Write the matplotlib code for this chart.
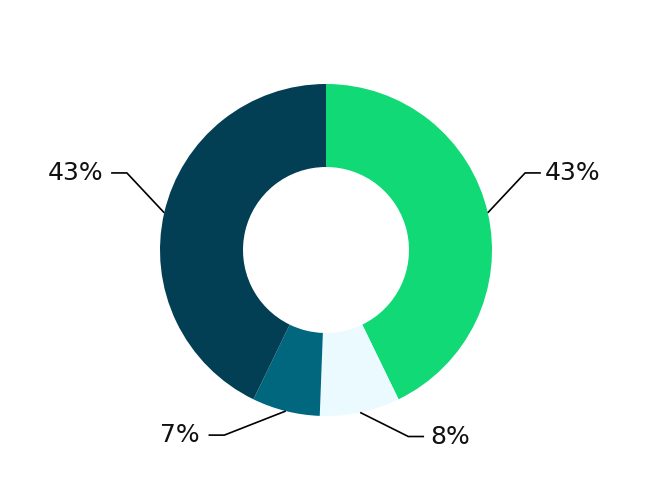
import matplotlib.pyplot as plt
import numpy as np

# Slice values (percent), clockwise from 12 o'clock
values = [42.8, 7.8, 6.6, 42.8]
labels = ["43%", "8%", "7%", "43%"]
colors = ["#10d975", "#eafaff", "#00677f", "#023f54"]

fig = plt.figure(figsize=(6.52, 5.0), dpi=100)
ax = fig.add_axes([0, 0, 1, 1])

wedges, _ = ax.pie(values, colors=colors, startangle=90, counterclock=False,
                   radius=1.0, wedgeprops=dict(width=0.5, linewidth=0))

# pie() resets the limits, so fix them afterwards
R = 166.0  # outer radius in pixels
cx, cy = 326.0, 250.0
ax.set_xlim(-cx / R, (652 - cx) / R)
ax.set_ylim(-(500 - cy) / R, cy / R)
ax.set_aspect("equal")
ax.axis("off")

# leader line offsets (dx, dy) from the wedge edge to the elbow, and text gap
elbows = [(0.225, 0.24), (0.29, -0.145), (0.37, -0.145), (0.225, 0.24)]
text_gaps = [0.025, 0.035, 0.055, 0.045]
for w, lab, (ex, ey), tg in zip(wedges, labels, elbows, text_gaps):
    theta = np.deg2rad((w.theta1 + w.theta2) / 2)
    x0, y0 = np.cos(theta), np.sin(theta)
    sgn = 1 if x0 > 0 else -1
    x1, y1 = x0 + sgn * ex, y0 + ey
    x2 = x1 + sgn * 0.095
    ax.plot([x0, x1, x2], [y0, y1, y1], color="black", lw=1.2,
            solid_capstyle="butt", clip_on=False)
    ax.text(x2 + sgn * tg, y1, lab, fontsize=18,
            ha="left" if sgn > 0 else "right", va="center", color="#111111")

fig.savefig("out.png", dpi=100)
